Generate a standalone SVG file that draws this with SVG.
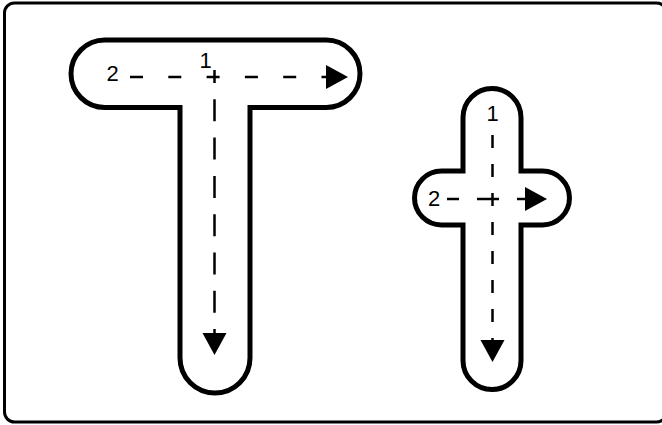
<svg xmlns="http://www.w3.org/2000/svg" width="662" height="425" viewBox="0 0 662 425">
<defs>
<style>
.frame{fill:#fff;stroke:#000;stroke-width:3}
.shape{fill:#fff;stroke:#000;stroke-width:5;stroke-linejoin:miter}
.dash{fill:none;stroke:#000;stroke-width:2.5}
.lbl{font-family:"Liberation Sans",Arial,sans-serif;font-size:22px;fill:#000}
</style>
<marker id="ah" markerUnits="userSpaceOnUse" markerWidth="24" markerHeight="26" refX="22" refY="12" orient="auto">
<path d="M0,0 L22,12 L0,24 Z" fill="#000"/>
</marker>
</defs>
<rect class="frame" x="4.5" y="3" width="662" height="419" rx="10"/>
<g id="shapeT">
<path class="shape" d="M180 107.5 L104.75 107.5 A33.75 33.75 0 0 1 104.75 40 L326.25 40 A33.75 33.75 0 0 1 326.25 107.5 L250 107.5 L250 358 A35 35 0 0 1 180 358 Z"/>
<text class="lbl" x="106.5" y="80.5">2</text>
<text class="lbl" x="205.5" y="68" text-anchor="middle">1</text>
</g>
<g id="shapeCross">
<path class="shape" d="M463 171 L463 117.5 A29 29 0 0 1 521 117.5 L521 171 L542.5 171 A27 27 0 0 1 542.5 225 L521 225 L521 360.5 A29 29 0 0 1 463 360.5 L463 225 L441.5 225 A27 27 0 0 1 441.5 171 Z"/>
<text class="lbl" x="492.5" y="120.5" text-anchor="middle">1</text>
<text class="lbl" x="428" y="206">2</text>
</g>
<g id="connectors">
<line class="dash" x1="130" y1="77" x2="348" y2="77" stroke-dasharray="13 25.3" marker-end="url(#ah)"/>
<line class="dash" x1="214.5" y1="70" x2="214.5" y2="355" stroke-dasharray="22 16.3" stroke-dashoffset="9" marker-end="url(#ah)"/>
<line class="dash" x1="447" y1="199" x2="547" y2="199" stroke-dasharray="22 18" stroke-dashoffset="10" marker-end="url(#ah)"/>
<line class="dash" x1="492.5" y1="135" x2="492.5" y2="362" stroke-dasharray="13 16" marker-end="url(#ah)"/>
</g>
</svg>
